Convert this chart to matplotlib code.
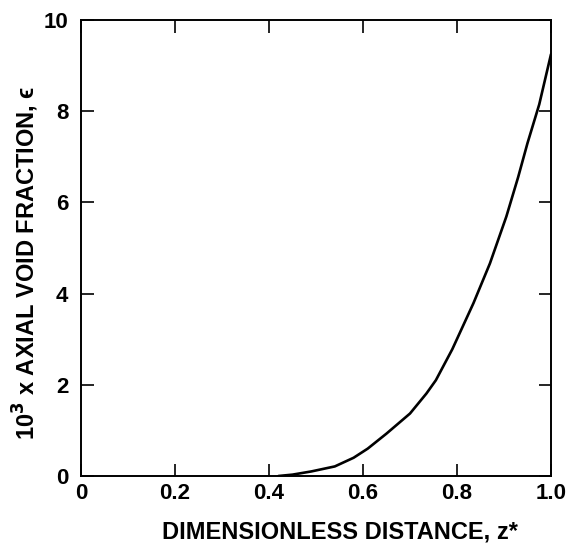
import matplotlib
matplotlib.use("Agg")
import matplotlib.pyplot as plt

z = [0.42, 0.45, 0.49, 0.54, 0.58, 0.61, 0.65, 0.70, 0.735, 0.755, 0.79,
     0.835, 0.87, 0.905, 0.93, 0.95, 0.975, 1.0]
eps = [0.0, 0.03, 0.10, 0.21, 0.40, 0.60, 0.93, 1.37, 1.81, 2.10, 2.78,
       3.79, 4.66, 5.69, 6.55, 7.30, 8.15, 9.25]

xticks = [0, 0.2, 0.4, 0.6, 0.8, 1.0]
xticklabels = ["0", "0.2", "0.4", "0.6", "0.8", "1.0"]
yticks = [0, 2, 4, 6, 8, 10]
yticklabels = ["0", "2", "4", "6", "8", "10"]

plt.rcParams['font.family'] = ['Liberation Sans', 'DejaVu Sans']
plt.rcParams['font.weight'] = 'bold'

fig = plt.figure(figsize=(5.72, 5.49), dpi=100)
ax = fig.add_axes([81/572, 1 - 476/549, 470/572, 456/549])

ax.plot(z, eps, color='black', lw=1.9, solid_capstyle='round',
        solid_joinstyle='round')

ax.set_xlim(0, 1.0)
ax.set_ylim(0, 10)
ax.set_xticks(xticks)
ax.set_xticklabels(xticklabels, fontweight='bold')
ax.set_yticks(yticks)
ax.set_yticklabels(yticklabels, fontweight='bold')

ax.tick_params(direction='in', length=9, width=1.2, top=True, right=True,
               labelsize=16, colors='black')
ax.tick_params(axis='x', pad=5)
ax.tick_params(axis='y', pad=9)
for s in ax.spines.values():
    s.set_linewidth(1.4)

ax.set_xlabel("DIMENSIONLESS DISTANCE, z*", fontsize=17, fontweight='bold')
ax.set_ylabel("10$^3$ x AXIAL VOID FRACTION, \u03f5", fontsize=17, fontweight='bold')
ax.xaxis.set_label_coords((340 - 81) / 470, (476 - 521) / 456)
ax.yaxis.set_label_coords((41 - 81) / 470, (476 - 263) / 456)

fig.savefig("out.png", dpi=100)
